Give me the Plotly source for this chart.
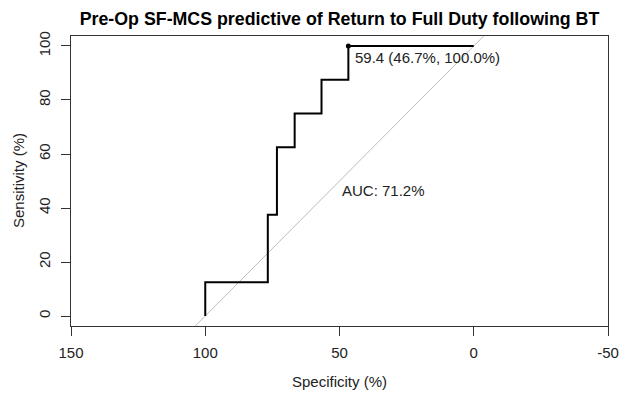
import plotly.graph_objects as go

# ROC curve points (specificity %, sensitivity %)
specificity = [100, 76.7, 73.3, 66.7, 56.7, 46.7, 0]
sensitivity = [0, 12.5, 37.5, 62.5, 75, 87.5, 100]

# best threshold
thr_value = 59.4
thr_spec = 46.7
thr_sens = 100.0
auc = 71.2

# identity line endpoints (extended beyond the axes, clipped by plot area)
diag_x = [120, -20]
diag_y = [-20, 120]

x_ticks = [150, 100, 50, 0, -50]
y_ticks = [0, 20, 40, 60, 80, 100]

title = "Pre-Op SF-MCS predictive of Return to Full Duty following BT"

W, H = 619, 393
L, R, T, B = 71, 11, 36, 67

fig = go.Figure()
fig.add_trace(go.Scatter(x=diag_x, y=diag_y, mode="lines",
                         line=dict(color="#bdbdbd", width=1), hoverinfo="skip"))
fig.add_trace(go.Scatter(x=specificity, y=sensitivity, mode="lines",
                         line=dict(color="black", width=2, shape="vh")))
fig.add_trace(go.Scatter(x=[thr_spec], y=[thr_sens], mode="markers",
                         marker=dict(color="black", size=5)))

font = "Liberation Sans, Arial, sans-serif"
fs = 15

fig.add_annotation(x=thr_spec, y=thr_sens, xref="x", yref="y",
                   text=f"{thr_value} ({thr_spec}%, {thr_sens:.1f}%)",
                   showarrow=False, xanchor="left", yanchor="top",
                   xshift=5, yshift=-1,
                   font=dict(family=font, size=fs, color="#222"))
fig.add_annotation(x=50, y=50, xref="x", yref="y",
                   text=f"AUC: {auc}%", showarrow=False,
                   xanchor="left", yanchor="top", yshift=1,
                   font=dict(family=font, size=fs, color="#222"))

# axis titles
fig.add_annotation(x=0.5, y=0, xref="paper", yref="paper",
                   text="Specificity (%)", showarrow=False,
                   xanchor="center", yanchor="middle", yshift=-55,
                   font=dict(family=font, size=fs, color="#222"))
fig.add_annotation(x=0, y=0.5, xref="paper", yref="paper",
                   text="Sensitivity (%)", showarrow=False, textangle=-90,
                   xanchor="center", yanchor="middle", xshift=-53,
                   font=dict(family=font, size=fs, color="#222"))

fig.update_layout(
    width=W, height=H,
    margin=dict(l=L, r=R, t=T, b=B, autoexpand=False),
    paper_bgcolor="white", plot_bgcolor="white",
    showlegend=False,
    title=dict(text=f"<b>{title}</b>", x=(L + (W - L - R) / 2) / W, xanchor="center",
               y=1 - 19 / H, yanchor="middle",
               font=dict(family=font, size=17.8, color="black")),
)
fig.update_xaxes(range=[150, -50], tickvals=x_ticks, ticktext=[str(v) for v in x_ticks],
                 automargin=False, ticklabelstandoff=4,
                 showgrid=False, zeroline=False, showline=True, mirror=True,
                 linecolor="#333", linewidth=1, ticks="outside", ticklen=9,
                 tickcolor="#333", tickfont=dict(family=font, size=fs, color="#222"))
fig.update_yaxes(range=[-3.7, 103.7], tickvals=y_ticks, automargin=False,
                 ticklabelstandoff=5,
                 showgrid=False, zeroline=False, showline=True, mirror=True,
                 linecolor="#333", linewidth=1, ticks="outside", ticklen=9,
                 tickangle=-90,
                 tickcolor="#333", tickfont=dict(family=font, size=fs, color="#222"))

fig.write_html("out.html", config={"displayModeBar": False},
               post_script="document.body.style.margin='0';document.body.style.overflow='hidden';")
